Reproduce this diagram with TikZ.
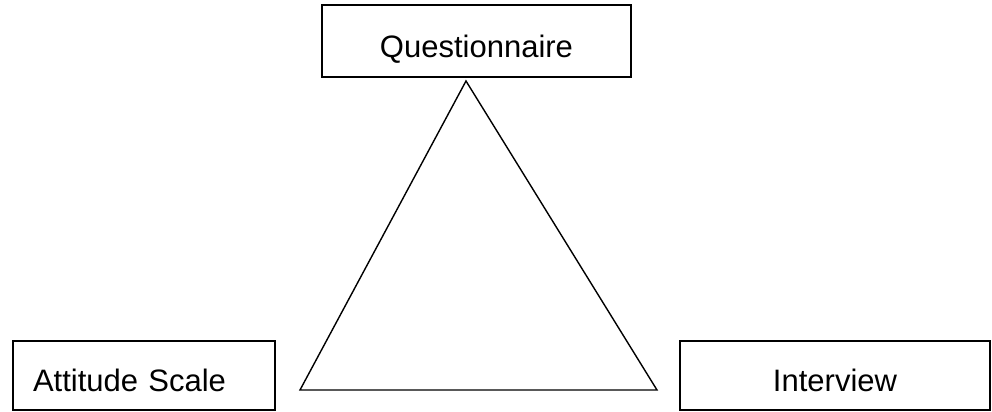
\documentclass[tikz,border=0pt]{standalone}
\usepackage{fontspec}
\setmainfont{Liberation Sans}
\usetikzlibrary{positioning}

\tikzset{methodbox/.style={draw,line width=.8pt,inner sep=0pt,text height=16pt,text depth=0pt,font=\fontsize{15.5}{18}\selectfont}}

\begin{document}
\begin{tikzpicture}[x=.5pt,y=-.5pt,line width=.7pt]
\path[use as bounding box] (0,0) rectangle (992,412);
\node[methodbox,minimum width=154.5pt,minimum height=36pt] (quest) at (476.5,41) {Questionnaire};
\node[methodbox,minimum height=34.5pt,text width=111pt,inner xsep=10pt,align=left] (attit) at (144,375.5) {Attitude Scale};
\node[methodbox,minimum width=155pt,minimum height=34.5pt] (interv) at (835,375.5) {Interview};
% triangle between the three methods
\coordinate (apex) at (466,81);
\coordinate (bleft) at (300,390);
\coordinate (bright) at (657,390);
\draw (apex) -- (bleft) -- (bright) -- cycle;
\end{tikzpicture}
\end{document}
